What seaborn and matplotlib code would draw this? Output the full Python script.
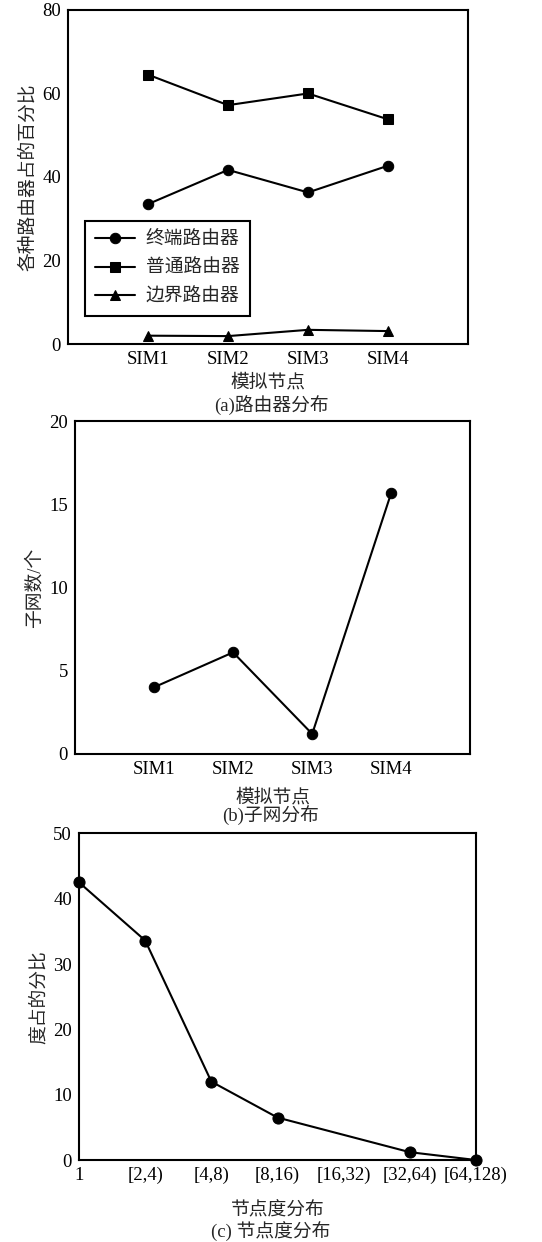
import pandas as pd
import matplotlib.pyplot as plt
import seaborn as sns

# 数据
sims = ["SIM1", "SIM2", "SIM3", "SIM4"]
router_names = ["终端路由器", "普通路由器", "边界路由器"]
zhongduan = [33.5, 41.7, 36.3, 42.7]
putong = [64.5, 57.2, 60.0, 53.8]
bianjie = [2.0, 1.9, 3.4, 3.1]

subnets = [4.0, 6.1, 1.2, 15.7]

degree_bins = ["1", "[2,4)", "[4,8)", "[8,16)", "[16,32)", "[32,64)", "[64,128)"]
degree_pct = [42.5, 33.6, 12.0, 6.5, None, 1.2, 0.0]

sns.set_style("white")
plt.rcParams['font.family'] = ['Liberation Serif', 'Noto Sans CJK SC']
plt.rcParams['font.size'] = 13.5
plt.rcParams['axes.linewidth'] = 1.5
plt.rcParams['axes.edgecolor'] = 'black'

fig = plt.figure(figsize=(5.42, 12.42), dpi=100)
ax_a = fig.add_axes([0.1255, 0.723, 0.738, 0.269])
ax_b = fig.add_axes([0.138, 0.393, 0.730, 0.268])
ax_c = fig.add_axes([0.1458, 0.066, 0.7325, 0.263])

# (a) 路由器分布
df_a = pd.DataFrame({
    'x': list(range(1, 5)) * 3,
    'val': zhongduan + putong + bianjie,
    'type': [router_names[0]] * 4 + [router_names[1]] * 4 + [router_names[2]] * 4,
})
sns.lineplot(data=df_a, x='x', y='val', hue='type', style='type',
             hue_order=router_names, style_order=router_names,
             palette=['black'] * 3, markers=['o', 's', '^'], dashes=False,
             markersize=7.5, linewidth=1.5, markeredgecolor='black', ax=ax_a)
ax_a.set_xlim(0, 5)
ax_a.set_ylim(0, 80)
ax_a.set_yticks(range(0, 81, 20))
ax_a.set_xticks(range(1, 5))
ax_a.set_xticklabels(sims)
ax_a.set_ylabel("各种路由器占的百分比")
ax_a.set_xlabel("模拟节点", labelpad=4)
leg = ax_a.legend(loc='lower left', bbox_to_anchor=(0.042, 0.084), borderaxespad=0,
                  fancybox=False, edgecolor='black', framealpha=1, fontsize=13.5,
                  handlelength=2.1, handletextpad=0.6, borderpad=0.55,
                  labelspacing=0.6)
leg.get_frame().set_linewidth(1.5)
fig.text(0.5, 1 - 405 / 1242, "(a)路由器分布", ha='center', va='center')

# (b) 子网分布
df_b = pd.DataFrame({'x': range(1, 5), 'n': subnets})
sns.lineplot(data=df_b, x='x', y='n', color='black', marker='o', markersize=7.5,
             linewidth=1.5, markeredgecolor='black', ax=ax_b)
ax_b.set_xlim(0, 5)
ax_b.set_ylim(0, 20)
ax_b.set_yticks(range(0, 21, 5))
ax_b.set_xticks(range(1, 5))
ax_b.set_xticklabels(sims)
ax_b.set_ylabel("子网数/个")
ax_b.set_xlabel("模拟节点", labelpad=8)
fig.text(0.5, 1 - 815 / 1242, "(b)子网分布", ha='center', va='center')

# (c) 节点度分布
df_c = pd.DataFrame({'x': range(len(degree_bins)), 'pct': degree_pct}).dropna()
sns.lineplot(data=df_c, x='x', y='pct', color='black', marker='o', markersize=8,
             linewidth=1.5, markeredgecolor='black', clip_on=False, ax=ax_c)
ax_c.set_xlim(0, 6)
ax_c.set_ylim(0, 50)
ax_c.set_yticks(range(0, 51, 10))
ax_c.set_xticks(range(len(degree_bins)))
ax_c.set_xticklabels(degree_bins)
ax_c.set_ylabel("度占的分比")
ax_c.set_xlabel("节点度分布", labelpad=13)
fig.text(0.5, 1 - 1232 / 1242, "(c) 节点度分布", ha='center', va='center')

for ax in (ax_a, ax_b, ax_c):
    ax.tick_params(direction='in', length=3, width=1, pad=5, colors='black')
    for s in ax.spines.values():
        s.set_visible(True)
        s.set_color('black')

fig.savefig("out.png", dpi=100)
